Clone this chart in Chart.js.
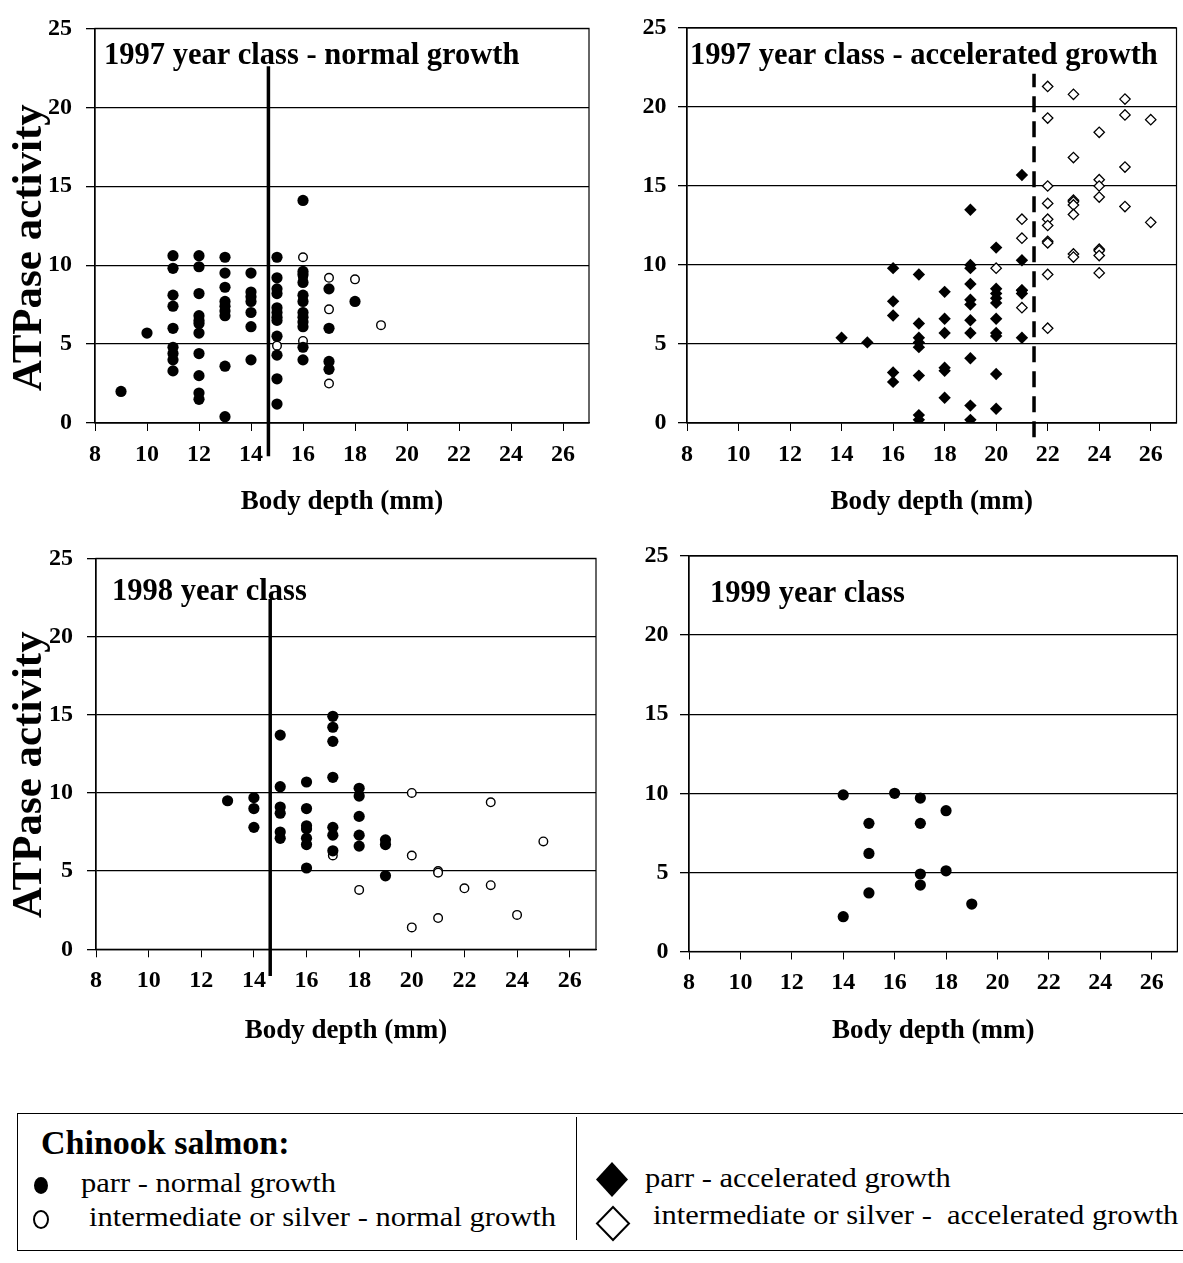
<!DOCTYPE html>
<html><head><meta charset="utf-8">
<script src="https://cdn.jsdelivr.net/npm/chart.js@4.4.1/dist/chart.umd.min.js"></script>
<style>
html,body{margin:0;padding:0;background:#fff;overflow:hidden;width:1183px;height:1263px;position:relative;}
canvas{position:absolute;}
.lg{position:absolute;font-family:'Liberation Serif','Times New Roman',serif;color:#000;white-space:pre;line-height:1;}
.ent{font-size:28px;transform:scaleX(1.09);transform-origin:0 0;}
</style></head><body>
<canvas id="c1" width="620" height="540" style="left:0;top:0"></canvas>
<canvas id="c2" width="583" height="540" style="left:600px;top:0"></canvas>
<canvas id="c3" width="620" height="530" style="left:0;top:530px"></canvas>
<canvas id="c4" width="583" height="530" style="left:600px;top:530px"></canvas>

<div class="lg" style="left:17px;top:1113px;width:1190px;height:138px;border:1.5px solid #000;box-sizing:border-box;"></div>
<div class="lg" style="left:576px;top:1117px;width:0;height:123px;border-left:1.5px solid #000;"></div>
<div class="lg" style="left:41px;top:1126px;font-size:34px;font-weight:bold;">Chinook salmon:</div>
<div class="lg" style="left:34px;top:1177px;width:14px;height:17px;border-radius:50%;background:#000;"></div>
<div class="lg ent" style="left:81px;top:1169px;">parr - normal growth</div>
<div class="lg" style="left:33px;top:1210px;width:12px;height:15px;border-radius:50%;border:2px solid #000;"></div>
<div class="lg ent" style="left:89px;top:1203px;">intermediate or silver - normal growth</div>
<svg class="lg" style="left:594px;top:1160px" width="38" height="40"><polygon points="18,2 34,19.5 18,37 2,19.5" fill="#000"/></svg>
<div class="lg ent" style="left:645px;top:1164px;">parr - accelerated growth</div>
<svg class="lg" style="left:594px;top:1205px" width="38" height="40"><polygon points="19,2 35,18.5 19,35 3,18.5" fill="#fff" stroke="#000" stroke-width="2"/></svg>
<div class="lg ent" style="left:653px;top:1201px;">intermediate or silver -  accelerated growth</div>

<script>
// ---------- DATA ----------
const xTickValues = [8, 10, 12, 14, 16, 18, 20, 22, 24, 26];
const yTickValues = [0, 5, 10, 15, 20, 25];
const xAxisTitle = 'Body depth (mm)';
const yAxisTitle = 'ATPase activity';
const panelTitles = ['1997 year class - normal growth', '1997 year class - accelerated growth', '1998 year class', '1999 year class'];

// 1997 year class - normal growth
const depth97N_parr = [9, 10, 11, 12, 13, 14, 15, 16, 17, 18];
const atp97N_parr = [
  [2.0], [5.7],
  [10.6, 9.8, 8.1, 7.4, 6.0, 4.8, 4.4, 4.0, 3.3],
  [10.6, 9.9, 8.2, 6.8, 6.5, 6.3, 5.7, 4.4, 3.0, 1.9, 1.5],
  [10.5, 9.5, 8.6, 7.7, 7.4, 7.1, 6.8, 3.6, 0.4],
  [9.5, 8.3, 8.0, 7.7, 7.0, 6.1, 4.0],
  [10.5, 9.2, 8.5, 8.2, 7.3, 7.0, 6.7, 6.5, 5.5, 4.3, 2.8, 1.2],
  [14.1, 9.6, 9.4, 8.9, 8.1, 7.7, 7.0, 6.7, 6.4, 6.1, 4.8, 4.0],
  [8.5, 6.0, 3.9, 3.4],
  [7.7]
];
const depth97N_silver = [15, 16, 17, 18, 19];
const atp97N_silver = [[4.9], [10.5, 9.2, 7.8, 7.0, 5.2], [9.2, 7.2, 2.5], [9.1], [6.2]];
const split97N = 14.67, split97N_range = [-2.1, 22.6];

// 1997 year class - accelerated growth
const depth97A_parr = [14, 15, 16, 17, 18, 19, 20, 21];
const atp97A_parr = [
  [5.4], [5.1],
  [9.8, 7.7, 6.8, 3.2, 2.6],
  [9.4, 6.3, 5.4, 5.1, 4.8, 3.0, 0.5, 0.2],
  [8.3, 6.6, 5.7, 3.5, 3.3, 1.6],
  [13.5, 10.0, 9.8, 8.8, 7.8, 7.5, 6.5, 5.7, 4.1, 1.1, 0.2],
  [11.1, 8.5, 8.2, 7.9, 7.6, 6.6, 5.7, 5.5, 3.1, 0.9],
  [15.7, 10.3, 8.4, 8.2, 5.4]
];
const depth97A_silver = [20, 21, 22, 23, 24, 25, 26];
const atp97A_silver = [
  [9.8],
  [12.9, 11.7, 8.4, 7.3],
  [21.3, 19.3, 15.0, 13.9, 12.9, 12.5, 11.5, 11.4, 9.4, 6.0],
  [20.8, 16.8, 14.1, 14.0, 13.8, 13.2, 10.7, 10.5],
  [18.4, 15.4, 15.0, 14.3, 11.0, 10.9, 10.6, 9.5],
  [20.5, 19.5, 16.2, 13.7],
  [19.2, 12.7]
];
const split97A = 21.47, split97A_range = [-0.9, 22.1];

// 1998 year class
const depth98_parr = [13, 14, 15, 16, 17, 18, 19];
const atp98_parr = [
  [9.5],
  [9.7, 9.0, 7.8],
  [13.7, 10.4, 9.1, 8.7, 7.5, 7.1],
  [10.7, 9.0, 7.9, 7.7, 7.1, 6.7, 5.2],
  [14.9, 14.2, 13.3, 11.0, 7.8, 7.3, 6.3],
  [10.3, 9.8, 8.5, 7.3, 6.6],
  [7.0, 6.7, 4.7]
];
const depth98_silver = [17, 18, 20, 21, 22, 23, 24, 25];
const atp98_silver = [[6.0], [3.8], [10.0, 6.0, 1.4], [5.0, 4.9, 2.0], [3.9], [9.4, 4.1], [2.2], [6.9]];
const split98 = 14.62, split98_range = [-1.7, 22.4];

// 1999 year class
const depth99_parr = [14, 15, 16, 17, 18, 19];
const atp99_parr = [[9.9, 2.2], [8.1, 6.2, 3.7], [10.0], [9.7, 8.1, 4.9, 4.2], [8.9, 5.1], [3.0]];

// ---------- BUILD ----------
const FONT = "'Liberation Serif','Times New Roman',serif";
function pts(depths, vals) {
  const out = [];
  depths.forEach((d, i) => vals[i].forEach(v => out.push({x: d, y: v})));
  return out;
}
const filledCircle = {pointStyle: 'circle', pointRadius: 5.6, pointHoverRadius: 5.6, pointBackgroundColor: '#000', pointBorderColor: '#000', pointBorderWidth: 0};
const openCircle = {pointStyle: 'circle', pointRadius: 4.3, pointHoverRadius: 4.3, pointBackgroundColor: '#fff', pointBorderColor: '#000', pointBorderWidth: 1.4};
const filledDiamond = {pointStyle: 'rectRot', pointRadius: 6.2, pointHoverRadius: 6.2, pointBackgroundColor: '#000', pointBorderColor: '#000', pointBorderWidth: 0};
const openDiamond = {pointStyle: 'rectRot', pointRadius: 5.2, pointHoverRadius: 5.2, pointBackgroundColor: '#fff', pointBorderColor: '#000', pointBorderWidth: 1.3};

function splitLine(x, range, dashed) {
  return {data: [{x: x, y: range[0]}, {x: x, y: range[1]}], showLine: true, pointRadius: 0, pointHoverRadius: 0,
    borderColor: '#000', borderWidth: 3.5, borderDash: dashed ? [16, 9] : [], clip: false, order: 5};
}

const framePlugin = {
  id: 'frame',
  beforeDatasetsDraw(chart) {
    const {ctx, chartArea: a} = chart;
    ctx.save(); ctx.strokeStyle = '#000'; ctx.lineWidth = 1.2;
    ctx.strokeRect(a.left, a.top, a.right - a.left, a.bottom - a.top);
    ctx.restore();
  }
};
const panelTitlePlugin = {
  id: 'panelTitle',
  afterDraw(chart, args, o) {
    const {ctx, chartArea: a} = chart;
    ctx.save();
    ctx.font = 'bold 30.5px ' + FONT; ctx.fillStyle = '#000'; ctx.textBaseline = 'alphabetic'; ctx.textAlign = 'left';
    ctx.fillText(o.text, a.left + o.dx, a.top + o.dy);
    if (o.yTitle) {
      ctx.translate(o.yBaseX, (a.top + a.bottom) / 2 + o.yShift);
      ctx.rotate(-Math.PI / 2);
      ctx.font = 'bold 43px ' + FONT; ctx.textAlign = 'center';
      ctx.fillText(yAxisTitle, 0, 0);
    }
    ctx.restore();
  }
};

function makePanel(id, cfg) {
  const scales = {
    x: {type: 'linear', min: 8, max: 27,
      afterBuildTicks: s => { s.ticks = xTickValues.map(v => ({value: v})); },
      afterFit: s => { s.height = cfg.xH; },
      grid: {drawOnChartArea: false, drawTicks: true, tickLength: 8, color: '#000', lineWidth: 1},
      border: {color: '#000', width: 1.3},
      ticks: {font: {family: FONT, size: 24, weight: 'bold'}, color: '#000', padding: 9, maxRotation: 0, autoSkip: false},
      title: {display: true, text: xAxisTitle, color: '#000', font: {family: FONT, size: 27, weight: 'bold'}, padding: {top: 0, bottom: cfg.xTitlePad}}
    },
    y: {type: 'linear', min: 0, max: 25,
      afterBuildTicks: s => { s.ticks = yTickValues.map(v => ({value: v})); },
      afterFit: s => { s.width = cfg.yW; },
      grid: {drawTicks: true, tickLength: 9, color: '#000', lineWidth: 1.3},
      border: {color: '#000', width: 1.3},
      ticks: {font: {family: FONT, size: 24, weight: 'bold'}, color: '#000', padding: cfg.yPad},
      title: {display: false}
    }
  };
  return new Chart(document.getElementById(id), {
    type: 'scatter',
    data: {datasets: cfg.datasets},
    options: {
      responsive: false, animation: false, events: [],
      layout: {padding: {top: cfg.padTop, right: cfg.padRight, left: 0, bottom: 0}},
      scales: scales,
      plugins: {legend: {display: false}, tooltip: {enabled: false},
        panelTitle: {text: cfg.title, dx: cfg.tdx, dy: cfg.tdy, yTitle: !!cfg.yTitle, yBaseX: 40.5, yShift: cfg.yShift || 0}}
    },
    plugins: [framePlugin, panelTitlePlugin]
  });
}

makePanel('c1', {xH: 117, yW: 95, padTop: 28, padRight: 31, yPad: 14, xTitlePad: 21.8, yTitle: true, yShift: 22,
  title: panelTitles[0], tdx: 9, tdy: 36,
  datasets: [
    Object.assign({data: pts(depth97N_parr, atp97N_parr)}, filledCircle),
    Object.assign({data: pts(depth97N_silver, atp97N_silver)}, openCircle),
    splitLine(split97N, split97N_range, false)
  ]});
makePanel('c2', {xH: 117, yW: 87, padTop: 28, padRight: 1.3, yPad: 11.5, xTitlePad: 21.8, yTitle: false,
  title: panelTitles[1], tdx: 3, tdy: 36,
  datasets: [
    Object.assign({data: pts(depth97A_parr, atp97A_parr)}, filledDiamond),
    Object.assign({data: pts(depth97A_silver, atp97A_silver)}, openDiamond),
    splitLine(split97A, split97A_range, true)
  ]});
makePanel('c3', {xH: 110.7, yW: 96, padTop: 26, padRight: 24, yPad: 14, xTitlePad: 12.8, yTitle: true, yShift: 21,
  title: panelTitles[2], tdx: 16, tdy: 42,
  datasets: [
    Object.assign({data: pts(depth98_parr, atp98_parr)}, filledCircle),
    Object.assign({data: pts(depth98_silver, atp98_silver)}, openCircle),
    splitLine(split98, split98_range, false)
  ]});
makePanel('c4', {xH: 108.5, yW: 89, padTop: 26, padRight: 0, yPad: 11.5, xTitlePad: 12.8, yTitle: false,
  title: panelTitles[3], tdx: 21, tdy: 46,
  datasets: [
    Object.assign({data: pts(depth99_parr, atp99_parr)}, filledCircle)
  ]});
</script>
</body></html>
